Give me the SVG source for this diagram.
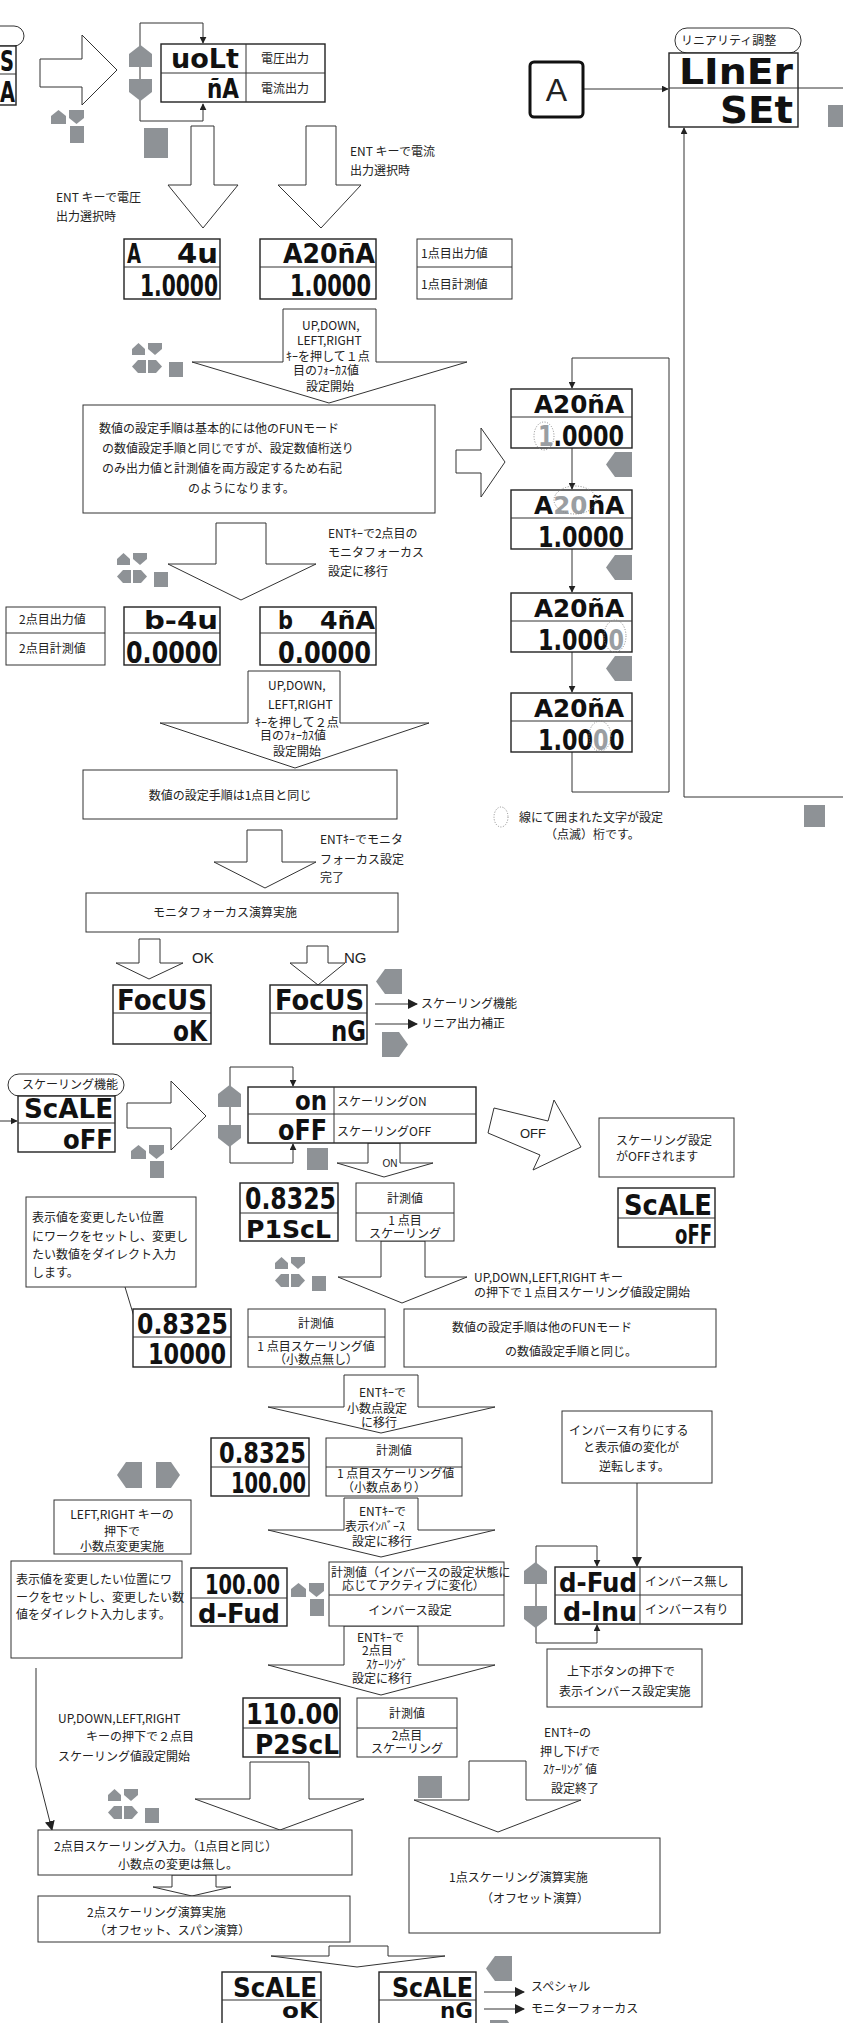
<svg xmlns="http://www.w3.org/2000/svg" width="843" height="2023" viewBox="0 0 843 2023">
<defs>
<style>
.ln{fill:none;stroke:#333;stroke-width:1}
.bx{fill:#fff;stroke:#333;stroke-width:1}
.dp{fill:#fff;stroke:#222;stroke-width:1.4}
.ha{fill:#fff;stroke:#333;stroke-width:1}
.g{fill:#8e9296}
.t{font-family:"Noto Sans CJK JP","Noto Sans",sans-serif;font-size:12px;fill:#222}
.lcd{font-family:"DejaVu Sans Condensed","DejaVu Sans",sans-serif;font-weight:bold;fill:#111}
.lgr{fill:#9a9ea2}
.dot{fill:none;stroke:#888;stroke-width:1;stroke-dasharray:1 1.6}
.m{text-anchor:middle}
.e{text-anchor:end}
.lat{font-family:"Liberation Sans",Arial,sans-serif;fill:#222}
</style>
<marker id="ah" viewBox="0 0 10 10" refX="9" refY="5" markerWidth="7" markerHeight="7" orient="auto" markerUnits="userSpaceOnUse"><path d="M0,0 L10,5 L0,10 Z" fill="#222"/></marker>
<marker id="ahL" viewBox="0 0 10 10" refX="9" refY="5" markerWidth="10" markerHeight="10" orient="auto" markerUnits="userSpaceOnUse"><path d="M0,0 L10,5 L0,10 Z" fill="#222"/></marker>
<g id="keys" class="g">
<path d="M6.5,0 L13,6 L13,12 L0,12 L0,6 Z"/>
<path d="M16,0 L30,0 L30,6 L23,12 L16,6 Z"/>
<path d="M0,23.5 L6,17 L14,17 L14,30 L6,30 Z"/>
<path d="M16,17 L24,17 L30,23.5 L24,30 L16,30 Z"/>
<rect x="37" y="19" width="14" height="15"/>
</g>
<g id="ud" class="g">
<path d="M7.5,0 L15,6 L15,14 L0,14 L0,6 Z"/>
<path d="M18,0 L33,0 L33,8 L25.5,14 L18,8 Z"/>
<rect x="19" y="16" width="14" height="17"/>
</g>
<path id="pl" class="g" d="M0,12.5 L9,0 L26,0 L26,25 L9,25 Z"/>
<path id="pr" class="g" d="M0,0 L17,0 L26,12.5 L17,25 L0,25 Z"/>
<path id="su" class="g" d="M11.5,0 L23,9 L23,22 L0,22 L0,9 Z"/>
<path id="sd" class="g" d="M0,0 L23,0 L23,13 L11.5,22 L0,13 Z"/>
</defs>
<rect width="843" height="2023" fill="#fff"/>

<g id="block-arrows">
<polygon class="ha" points="40,59 82,59 82,35 117,70 82,105 82,87 40,87"/>
<polygon class="ha" points="191,126 214,126 214,185 238,185 203,228 168,185 191,185"/>
<polygon class="ha" points="306,126 336,126 336,185 361,185 321,228 278,185 306,185"/>
<polygon class="ha" points="283,309 376,309 376,362 467,362 329,403 192,362 283,362"/>
<polygon class="ha" points="456,450 481,450 481,428 505,462 481,497 481,473 456,473"/>
<polygon class="ha" points="216,523 266,523 266,564 316,564 241,600 168,564 216,564"/>
<polygon class="ha" points="248,671 340,671 340,723 429,723 295,768 160,723 248,723"/>
<polygon class="ha" points="247,830 282,830 282,862 316,862 265,888 214,862 247,862"/>
<polygon class="ha" points="139,939 160,939 160,963 183,963 149,979 116,963 139,963"/>
<polygon class="ha" points="307,946 328,946 328,963 345,963 318,985 290,963 307,963"/>
<polygon class="ha" points="127,1103 171,1103 171,1081 206,1116 171,1150 171,1128 127,1128"/>
<polygon class="ha" points="368,1143 400,1143 400,1163 433,1163 384,1177 337,1163 368,1163"/>
<polygon class="ha" points="494,1108 548,1121 554,1100 581,1147 533,1170 540,1155 488,1133"/>
<polygon class="ha" points="381,1241 425,1241 425,1277 467,1277 402,1303 338,1277 381,1277"/>
<polygon class="ha" points="344,1375 418,1375 418,1407 495,1407 381,1433 268,1407 344,1407"/>
<polygon class="ha" points="344,1498 418,1498 418,1530 495,1530 381,1557 268,1530 344,1530"/>
<polygon class="ha" points="344,1626 418,1626 418,1665 495,1665 381,1695 268,1665 344,1665"/>
<polygon class="ha" points="250,1762 309,1762 309,1799 364,1799 280,1830 195,1799 250,1799"/>
<polygon class="ha" points="469,1761 526,1761 526,1800 581,1800 498,1832 414,1800 469,1800"/>
<polygon class="ha" points="172,1875 216,1875 216,1887 231,1887 192,1896 153,1887 172,1887"/>
<polygon class="ha" points="329,1946 388,1946 388,1956 445,1956 357,1967 271,1956 329,1956"/>
</g>

<g id="connectors" class="ln">
<path d="M583,89 H668" marker-end="url(#ah)"/>
<path d="M798,88 H843"/>
<path d="M684,797 H843"/>
<path d="M684,797 V128" marker-end="url(#ah)"/>
<path d="M140,70 V23 H203 V43" marker-end="url(#ah)"/>
<path d="M140,70 V121 H203 V104" marker-end="url(#ah)"/>
<path d="M572,752 V792 H669 V358 H572 V388" marker-end="url(#ah)"/>
<path d="M572,448 V489" marker-end="url(#ah)"/>
<path d="M572,549 V592" marker-end="url(#ah)"/>
<path d="M572,652 V692" marker-end="url(#ah)"/>
<path d="M375,1004 H417" marker-end="url(#ahL)"/>
<path d="M375,1024 H417" marker-end="url(#ahL)"/>
<path d="M0,1121 H17" marker-end="url(#ah)"/>
<path d="M230,1100 V1067 H293 V1086" marker-end="url(#ah)"/>
<path d="M230,1100 V1163 H293 V1144" marker-end="url(#ah)"/>
<path d="M125,1287 L142,1343" marker-end="url(#ah)"/>
<path d="M637,1483 V1566" marker-end="url(#ahL)"/>
<path d="M536,1590 V1546 H597 V1566" marker-end="url(#ah)"/>
<path d="M536,1590 V1643 H597 V1625" marker-end="url(#ah)"/>
<path d="M36,1668 V1767 L52,1830" marker-end="url(#ahL)"/>
<path d="M484,1992 H524" marker-end="url(#ahL)"/>
<path d="M484,2009 H524" marker-end="url(#ahL)"/>
</g>

<g id="icons">
<use href="#su" x="129" y="45"/><use href="#sd" x="129" y="79"/>
<use href="#ud" x="51" y="110"/>
<rect class="g" x="144" y="128" width="24" height="30"/>
<rect class="g" x="828" y="105" width="15" height="22"/>
<use href="#keys" x="132" y="343"/>
<use href="#pl" x="606" y="452"/>
<use href="#pl" x="606" y="555"/>
<use href="#pl" x="606" y="656"/>
<use href="#keys" x="117" y="553"/>
<rect class="g" x="804" y="805" width="21" height="22"/>
<use href="#pl" x="376" y="969"/>
<use href="#pr" x="382" y="1032"/>
<use href="#ud" x="131" y="1145"/>
<use href="#su" x="218" y="1085"/><use href="#sd" x="218" y="1125"/>
<rect class="g" x="307" y="1148" width="21" height="22"/>
<use href="#keys" x="275" y="1257"/>
<path class="g" d="M117,1475 L126,1462 L142,1462 L142,1488 L126,1488 Z"/>
<path class="g" d="M156,1462 L171,1462 L180,1475 L171,1488 L156,1488 Z"/>
<use href="#ud" x="291" y="1583"/>
<use href="#su" x="524" y="1562"/><use href="#sd" x="524" y="1606"/>
<use href="#keys" x="108" y="1789"/>
<rect class="g" x="418" y="1776" width="24" height="22"/>
<use href="#pl" x="486" y="1956"/>
<use href="#pr" x="490" y="2020"/>
</g>

<g id="n-prev">
<rect class="bx" x="-80" y="26" width="104" height="20" rx="10"/>
<rect class="dp" x="-80" y="46" width="96" height="59"/>
<line class="ln" x1="-80" y1="74" x2="16" y2="74"/>
<text class="lcd" x="0" y="71" font-size="29" textLength="14" lengthAdjust="spacingAndGlyphs">S</text>
<text class="lcd" x="0" y="102" font-size="29" textLength="15" lengthAdjust="spacingAndGlyphs">A</text>
</g>

<g id="n-output-sel">
<rect class="dp" x="161" y="44" width="164" height="58" stroke-width="1.1"/>
<line class="ln" x1="161" y1="73" x2="325" y2="73"/>
<line class="ln" x1="246" y1="44" x2="246" y2="102"/>
<text class="lcd" x="171" y="68" font-size="26" textLength="68" lengthAdjust="spacingAndGlyphs">uoLt</text>
<text class="lcd" x="207" y="98" font-size="26" textLength="32" lengthAdjust="spacingAndGlyphs">ñA</text>
<text class="t" x="261" y="63">電圧出力</text>
<text class="t" x="261" y="93">電流出力</text>
</g>

<g id="n-A">
<rect x="530" y="62" width="53" height="55" rx="4" fill="#fff" stroke="#111" stroke-width="3"/>
<text class="lat m" x="556.5" y="101" font-size="32">A</text>
</g>

<g id="n-liner">
<rect class="bx" x="675" y="28" width="126" height="25" rx="12"/>
<text class="t" x="681" y="45" font-size="11.5">リニアリティ調整</text>
<rect class="dp" x="669" y="53" width="129" height="74"/>
<line class="ln" x1="669" y1="88" x2="798" y2="88"/>
<text class="lcd" x="679" y="84" font-size="36" textLength="114" lengthAdjust="spacingAndGlyphs">LInEr</text>
<text class="lcd" x="720" y="123" font-size="38" textLength="73" lengthAdjust="spacingAndGlyphs">SEt</text>
</g>

<g id="n-notes-top">
<text class="t" x="350" y="156">ENT キーで電流</text>
<text class="t" x="350" y="175">出力選択時</text>
<text class="t" x="56" y="202">ENT キーで電圧</text>
<text class="t" x="56" y="221">出力選択時</text>
</g>

<g id="n-disp-a4u">
<rect class="dp" x="124" y="239" width="96" height="60"/>
<line class="ln" x1="124" y1="267" x2="220" y2="267"/>
<text class="lcd" x="127" y="263" font-size="26" textLength="14" lengthAdjust="spacingAndGlyphs">A</text>
<text class="lcd" x="177" y="263" font-size="26" textLength="41" lengthAdjust="spacingAndGlyphs">4u</text>
<text class="lcd" x="140" y="296" font-size="31" textLength="78" lengthAdjust="spacingAndGlyphs">1.0000</text>
</g>

<g id="n-disp-a20ma">
<rect class="dp" x="260" y="239" width="116" height="60"/>
<line class="ln" x1="260" y1="267" x2="376" y2="267"/>
<text class="lcd" x="283" y="263" font-size="26" textLength="92" lengthAdjust="spacingAndGlyphs">A20ñA</text>
<text class="lcd" x="290" y="296" font-size="31" textLength="81" lengthAdjust="spacingAndGlyphs">1.0000</text>
</g>

<g id="n-label-1pt">
<rect class="bx" x="417" y="239" width="95" height="60"/>
<line class="ln" x1="417" y1="267" x2="512" y2="267"/>
<text class="t" x="421" y="258">1点目出力値</text>
<text class="t" x="421" y="289">1点目計測値</text>
</g>

<g id="n-arrowtext-1">
<text class="t" x="302" y="330" font-size="11.5">UP,DOWN,</text>
<text class="t" x="297" y="345" font-size="11.5">LEFT,RIGHT</text>
<text class="t" x="286" y="361" font-size="11.5">ｷｰを押して１点</text>
<text class="t" x="293" y="375" font-size="11.5">目のﾌｫｰｶｽ値</text>
<text class="t" x="306" y="391" font-size="11.5">設定開始</text>
</g>

<g id="n-note-1">
<rect class="bx" x="83" y="405" width="352" height="108"/>
<text class="t" x="99" y="433" font-size="13.5">数値の設定手順は基本的には他のFUNモード</text>
<text class="t" x="102" y="453" font-size="13.5">の数値設定手順と同じですが、設定数値桁送り</text>
<text class="t" x="102" y="473" font-size="13.5">のみ出力値と計測値を両方設定するため右記</text>
<text class="t" x="188" y="493" font-size="13.5">のようになります。</text>
</g>

<g id="n-stack-1">
<rect class="dp" x="511" y="389" width="121" height="59"/>
<line class="ln" x1="511" y1="417" x2="632" y2="417"/>
<text class="lcd" x="534" y="413" font-size="24" textLength="90" lengthAdjust="spacingAndGlyphs">A20ñA</text>
<g transform="translate(538,446) scale(0.885,1)">
<text class="lcd lgr e" x="17.5" y="0" font-size="28">1</text>
<text class="lcd" x="17.5" y="0" font-size="28">.0000</text>
</g>
<ellipse class="dot" cx="544" cy="436" rx="10" ry="14"/>
</g>
<g id="n-stack-2">
<rect class="dp" x="511" y="490" width="121" height="59"/>
<line class="ln" x1="511" y1="518" x2="632" y2="518"/>
<g transform="translate(534,514) scale(1.14,1)">
<text class="lcd e" x="16.8" y="0" font-size="24">A</text>
<text class="lcd lgr" x="16.8" y="0" font-size="24">20</text>
<text class="lcd" x="47.2" y="0" font-size="24">ñA</text>
</g>
<text class="lcd" x="538" y="547" font-size="28" textLength="86" lengthAdjust="spacingAndGlyphs">1.0000</text>
<ellipse class="dot" cx="575" cy="500" rx="21" ry="14"/>
</g>
<g id="n-stack-3">
<rect class="dp" x="511" y="593" width="121" height="59"/>
<line class="ln" x1="511" y1="621" x2="632" y2="621"/>
<text class="lcd" x="534" y="617" font-size="24" textLength="90" lengthAdjust="spacingAndGlyphs">A20ñA</text>
<g transform="translate(538,650) scale(0.885,1)">
<text class="lcd e" x="79.7" y="0" font-size="28">1.000</text>
<text class="lcd lgr" x="79.7" y="0" font-size="28">0</text>
</g>
<ellipse class="dot" cx="615" cy="636" rx="11" ry="16"/>
</g>
<g id="n-stack-4">
<rect class="dp" x="511" y="693" width="121" height="59"/>
<line class="ln" x1="511" y1="721" x2="632" y2="721"/>
<text class="lcd" x="534" y="717" font-size="24" textLength="90" lengthAdjust="spacingAndGlyphs">A20ñA</text>
<g transform="translate(538,750) scale(0.885,1)">
<text class="lcd e" x="62.2" y="0" font-size="28">1.00</text>
<text class="lcd lgr" x="62.2" y="0" font-size="28">0</text>
<text class="lcd" x="80.3" y="0" font-size="28">0</text>
</g>
<ellipse class="dot" cx="600" cy="736" rx="11" ry="15"/>
</g>
<g id="n-legend">
<ellipse class="dot" cx="501" cy="817" rx="7" ry="10"/>
<text class="t" x="519" y="822" font-size="11.5">線にて囲まれた文字が設定</text>
<text class="t" x="545" y="839" font-size="11.5">（点滅）桁です。</text>
</g>

<g id="n-note-2pt">
<text class="t" x="328" y="538">ENTｷｰで2点目の</text>
<text class="t" x="328" y="557">モニタフォーカス</text>
<text class="t" x="328" y="576">設定に移行</text>
</g>

<g id="n-label-2pt">
<rect class="bx" x="6" y="607" width="99" height="58"/>
<line class="ln" x1="6" y1="633" x2="105" y2="633"/>
<text class="t" x="19" y="624">2点目出力値</text>
<text class="t" x="19" y="653">2点目計測値</text>
</g>
<g id="n-disp-b4u">
<rect class="dp" x="124" y="607" width="96" height="58"/>
<line class="ln" x1="124" y1="633" x2="220" y2="633"/>
<text class="lcd" x="144" y="629" font-size="25" textLength="74" lengthAdjust="spacingAndGlyphs">b-4u</text>
<text class="lcd" x="126" y="663" font-size="31" textLength="92" lengthAdjust="spacingAndGlyphs">0.0000</text>
</g>
<g id="n-disp-b4ma">
<rect class="dp" x="260" y="607" width="116" height="58"/>
<line class="ln" x1="260" y1="633" x2="376" y2="633"/>
<text class="lcd" x="278" y="629" font-size="25" textLength="15" lengthAdjust="spacingAndGlyphs">b</text>
<text class="lcd" x="320" y="629" font-size="25" textLength="55" lengthAdjust="spacingAndGlyphs">4ñA</text>
<text class="lcd" x="278" y="663" font-size="31" textLength="93" lengthAdjust="spacingAndGlyphs">0.0000</text>
</g>

<g id="n-arrowtext-2">
<text class="t" x="268" y="690" font-size="11.5">UP,DOWN,</text>
<text class="t" x="268" y="709" font-size="11.5">LEFT,RIGHT</text>
<text class="t" x="255" y="727" font-size="11.5">ｷｰを押して２点</text>
<text class="t" x="260" y="740" font-size="11.5">目のﾌｫｰｶｽ値</text>
<text class="t" x="273" y="756" font-size="11.5">設定開始</text>
</g>

<g id="n-note-same">
<rect class="bx" x="83" y="770" width="314" height="49"/>
<text class="t m" x="230" y="800" font-size="15">数値の設定手順は1点目と同じ</text>
</g>
<g id="n-note-focus-done">
<text class="t" x="320" y="844">ENTｷｰでモニタ</text>
<text class="t" x="320" y="864">フォーカス設定</text>
<text class="t" x="320" y="882">完了</text>
</g>
<g id="n-focus-calc">
<rect class="bx" x="86" y="893" width="312" height="39"/>
<text class="t m" x="225" y="917" font-size="14.5">モニタフォーカス演算実施</text>
</g>
<text class="lat" x="192" y="963" font-size="15">OK</text>
<text class="lat" x="344" y="963" font-size="15">NG</text>

<g id="n-focus-ok">
<rect class="dp" x="113" y="985" width="98" height="59"/>
<line class="ln" x1="113" y1="1013" x2="211" y2="1013"/>
<text class="lcd" x="117" y="1010" font-size="29" textLength="90" lengthAdjust="spacingAndGlyphs">FocUS</text>
<text class="lcd" x="173" y="1041" font-size="28" textLength="34" lengthAdjust="spacingAndGlyphs">oK</text>
</g>
<g id="n-focus-ng">
<rect class="dp" x="270" y="985" width="97" height="59"/>
<line class="ln" x1="270" y1="1013" x2="367" y2="1013"/>
<text class="lcd" x="275" y="1010" font-size="29" textLength="89" lengthAdjust="spacingAndGlyphs">FocUS</text>
<text class="lcd" x="331" y="1041" font-size="28" textLength="35" lengthAdjust="spacingAndGlyphs">nG</text>
<text class="t" x="421" y="1008" font-size="11.5">スケーリング機能</text>
<text class="t" x="421" y="1028" font-size="11.5">リニア出力補正</text>
</g>

<g id="n-scale">
<rect class="bx" x="8" y="1074" width="116" height="22" rx="11"/>
<text class="t" x="22" y="1089" font-size="11">スケーリング機能</text>
<rect class="dp" x="18" y="1096" width="97" height="56"/>
<line class="ln" x1="18" y1="1123" x2="115" y2="1123"/>
<text class="lcd" x="24" y="1118" font-size="27" textLength="89" lengthAdjust="spacingAndGlyphs">ScALE</text>
<text class="lcd" x="63" y="1149" font-size="26" textLength="50" lengthAdjust="spacingAndGlyphs">oFF</text>
</g>

<g id="n-scale-sel">
<rect class="dp" x="248" y="1087" width="228" height="56" stroke-width="1.1"/>
<line class="ln" x1="248" y1="1114" x2="476" y2="1114"/>
<line class="ln" x1="334" y1="1087" x2="334" y2="1143"/>
<text class="lcd" x="295" y="1110" font-size="26" textLength="32" lengthAdjust="spacingAndGlyphs">on</text>
<text class="lcd" x="278" y="1140" font-size="28" textLength="49" lengthAdjust="spacingAndGlyphs">oFF</text>
<text class="t" x="337" y="1106">スケーリングON</text>
<text class="t" x="337" y="1136">スケーリングOFF</text>
</g>
<text class="lat m" x="390" y="1167" font-size="10">ON</text>
<text class="lat" x="520" y="1138" font-size="13">OFF</text>

<g id="n-scale-off-note">
<rect class="bx" x="599" y="1118" width="135" height="59"/>
<text class="t" x="616" y="1145" font-size="11.5">スケーリング設定</text>
<text class="t" x="616" y="1161" font-size="11.5">がOFFされます</text>
</g>

<g id="n-disp-p1scl">
<rect class="dp" x="240" y="1183" width="98" height="58"/>
<line class="ln" x1="240" y1="1213" x2="338" y2="1213"/>
<text class="lcd" x="245" y="1209" font-size="30" textLength="91" lengthAdjust="spacingAndGlyphs">0.8325</text>
<text class="lcd" x="246" y="1238" font-size="25" textLength="85" lengthAdjust="spacingAndGlyphs">P1ScL</text>
</g>
<g id="n-label-p1">
<rect class="bx" x="356" y="1183" width="98" height="58"/>
<line class="ln" x1="356" y1="1213" x2="454" y2="1213"/>
<text class="t m" x="405" y="1203">計測値</text>
<text class="t m" x="405" y="1225">1 点目</text>
<text class="t m" x="405" y="1238">スケーリング</text>
</g>
<g id="n-scale-off-disp">
<rect class="dp" x="618" y="1188" width="97" height="59"/>
<line class="ln" x1="618" y1="1218" x2="715" y2="1218"/>
<text class="lcd" x="624" y="1215" font-size="29" textLength="88" lengthAdjust="spacingAndGlyphs">ScALE</text>
<text class="lcd" x="675" y="1244" font-size="27" textLength="37" lengthAdjust="spacingAndGlyphs">oFF</text>
</g>

<g id="n-direct-note-1">
<rect class="bx" x="26" y="1197" width="170" height="90"/>
<text class="t" x="32" y="1222" font-size="11.5">表示値を変更したい位置</text>
<text class="t" x="32" y="1241" font-size="11.5">にワークをセットし、変更し</text>
<text class="t" x="32" y="1259" font-size="11.5">たい数値をダイレクト入力</text>
<text class="t" x="32" y="1277" font-size="11.5">します。</text>
</g>
<text class="t" x="474" y="1282">UP,DOWN,LEFT,RIGHT キー</text>
<text class="t" x="474" y="1297">の押下で１点目スケーリング値設定開始</text>

<g id="n-disp-10000">
<rect class="dp" x="133" y="1309" width="98" height="58"/>
<line class="ln" x1="133" y1="1337" x2="231" y2="1337"/>
<text class="lcd" x="137" y="1334" font-size="29" textLength="91" lengthAdjust="spacingAndGlyphs">0.8325</text>
<text class="lcd" x="148" y="1364" font-size="29" textLength="78" lengthAdjust="spacingAndGlyphs">10000</text>
</g>
<g id="n-label-p1v">
<rect class="bx" x="248" y="1309" width="137" height="58"/>
<line class="ln" x1="248" y1="1337" x2="385" y2="1337"/>
<text class="t m" x="316" y="1328">計測値</text>
<text class="t m" x="316" y="1351">1 点目スケーリング値</text>
<text class="t m" x="316" y="1364" font-size="11">（小数点無し）</text>
</g>
<g id="n-note-fun">
<rect class="bx" x="404" y="1309" width="312" height="58"/>
<text class="t" x="452" y="1332" font-size="13">数値の設定手順は他のFUNモード</text>
<text class="t" x="505" y="1356" font-size="13">の数値設定手順と同じ。</text>
</g>

<g id="n-arrowtext-3">
<text class="t" x="359" y="1397" font-size="11.5">ENTｷｰで</text>
<text class="t" x="347" y="1413" font-size="11.5">小数点設定</text>
<text class="t" x="361" y="1427" font-size="11.5">に移行</text>
</g>

<g id="n-disp-10000dp">
<rect class="dp" x="211" y="1438" width="98" height="58"/>
<line class="ln" x1="211" y1="1467" x2="309" y2="1467"/>
<text class="lcd" x="219" y="1463" font-size="29" textLength="87" lengthAdjust="spacingAndGlyphs">0.8325</text>
<text class="lcd" x="231" y="1493" font-size="29" textLength="75" lengthAdjust="spacingAndGlyphs">100.00</text>
</g>
<g id="n-label-p1dp">
<rect class="bx" x="326" y="1438" width="136" height="58"/>
<line class="ln" x1="326" y1="1467" x2="462" y2="1467"/>
<text class="t m" x="394" y="1455">計測値</text>
<text class="t" x="337" y="1478">1 点目スケーリング値</text>
<text class="t" x="342" y="1492" font-size="11">（小数点あり）</text>
</g>

<g id="n-inverse-note">
<rect class="bx" x="562" y="1411" width="150" height="72"/>
<text class="t" x="569" y="1435" font-size="11.5">インバース有りにする</text>
<text class="t" x="583" y="1452" font-size="11.5">と表示値の変化が</text>
<text class="t" x="599" y="1471" font-size="11.5">逆転します。</text>
</g>

<g id="n-lr-note">
<rect class="bx" x="54" y="1500" width="137" height="54"/>
<text class="t m" x="122" y="1519" font-size="11.5">LEFT,RIGHT キーの</text>
<text class="t m" x="122" y="1536" font-size="11.5">押下で</text>
<text class="t m" x="122" y="1551" font-size="11.5">小数点変更実施</text>
</g>

<g id="n-arrowtext-4">
<text class="t" x="359" y="1516" font-size="11.5">ENTｷｰで</text>
<text class="t" x="345" y="1531" font-size="11.5">表示ｲﾝﾊﾞｰｽ</text>
<text class="t" x="352" y="1546" font-size="11.5">設定に移行</text>
</g>

<g id="n-direct-note-2">
<rect class="bx" x="11" y="1561" width="171" height="97"/>
<text class="t" x="16" y="1584" font-size="12">表示値を変更したい位置にワ</text>
<text class="t" x="16" y="1602" font-size="12">ークをセットし、変更したい数</text>
<text class="t" x="16" y="1619" font-size="12">値をダイレクト入力します。</text>
</g>

<g id="n-disp-dfwd">
<rect class="dp" x="191" y="1568" width="96" height="58"/>
<line class="ln" x1="191" y1="1598" x2="287" y2="1598"/>
<text class="lcd" x="205" y="1594" font-size="27" textLength="75" lengthAdjust="spacingAndGlyphs">100.00</text>
<text class="lcd" x="198" y="1623" font-size="27" textLength="82" lengthAdjust="spacingAndGlyphs">d-Fud</text>
</g>
<g id="n-label-inv">
<rect class="bx" x="329" y="1562" width="175" height="64"/>
<line class="ln" x1="329" y1="1595" x2="504" y2="1595"/>
<text class="t" x="331" y="1577" font-size="11">計測値（インバースの設定状態に</text>
<text class="t" x="342" y="1590" font-size="11">応じてアクティブに変化）</text>
<text class="t m" x="410" y="1615">インバース設定</text>
</g>

<g id="n-inv-sel">
<rect class="dp" x="555" y="1567" width="187" height="57" stroke-width="1.1"/>
<line class="ln" x1="555" y1="1595" x2="742" y2="1595"/>
<line class="ln" x1="640" y1="1567" x2="640" y2="1624"/>
<text class="lcd" x="559" y="1592" font-size="26" textLength="78" lengthAdjust="spacingAndGlyphs">d-Fud</text>
<text class="lcd" x="563" y="1621" font-size="26" textLength="74" lengthAdjust="spacingAndGlyphs">d-Inu</text>
<text class="t" x="645" y="1586" font-size="11.5">インバース無し</text>
<text class="t" x="645" y="1614" font-size="11.5">インバース有り</text>
</g>

<g id="n-arrowtext-5">
<text class="t" x="357" y="1642" font-size="11.5">ENTｷｰで</text>
<text class="t" x="362" y="1655" font-size="11.5">2点目</text>
<text class="t" x="366" y="1669" font-size="10.5">ｽｹｰﾘﾝｸﾞ</text>
<text class="t" x="352" y="1683" font-size="11.5">設定に移行</text>
</g>

<g id="n-updown-note">
<rect class="bx" x="547" y="1649" width="155" height="58"/>
<text class="t" x="567" y="1676" font-size="11.5">上下ボタンの押下で</text>
<text class="t" x="559" y="1696" font-size="11.5">表示インバース設定実施</text>
</g>

<g id="n-disp-p2scl">
<rect class="dp" x="243" y="1698" width="97" height="59"/>
<line class="ln" x1="243" y1="1728" x2="340" y2="1728"/>
<text class="lcd" x="246" y="1724" font-size="29" textLength="93" lengthAdjust="spacingAndGlyphs">110.00</text>
<text class="lcd" x="255" y="1754" font-size="27" textLength="84" lengthAdjust="spacingAndGlyphs">P2ScL</text>
</g>
<g id="n-label-p2">
<rect class="bx" x="357" y="1698" width="100" height="59"/>
<line class="ln" x1="357" y1="1728" x2="457" y2="1728"/>
<text class="t m" x="407" y="1718">計測値</text>
<text class="t m" x="407" y="1740">2点目</text>
<text class="t m" x="407" y="1753">スケーリング</text>
</g>

<g id="n-note-2pt-start">
<text class="t" x="58" y="1723" font-size="11.5">UP,DOWN,LEFT,RIGHT</text>
<text class="t" x="86" y="1741" font-size="11.5">キーの押下で２点目</text>
<text class="t" x="58" y="1761" font-size="11.5">スケーリング値設定開始</text>
</g>
<g id="n-note-end">
<text class="t" x="544" y="1737" font-size="11.5">ENTｷｰの</text>
<text class="t" x="540" y="1756" font-size="11.5">押し下げで</text>
<text class="t" x="543" y="1774" font-size="11">ｽｹｰﾘﾝｸﾞ値</text>
<text class="t" x="551" y="1793" font-size="11.5">設定終了</text>
</g>

<g id="n-2pt-input">
<rect class="bx" x="38" y="1830" width="314" height="45"/>
<text class="t" x="54" y="1851" font-size="11.5">2点目スケーリング入力。（1点目と同じ）</text>
<text class="t" x="118" y="1869" font-size="11.5">小数点の変更は無し。</text>
</g>
<g id="n-1pt-calc">
<rect class="bx" x="409" y="1838" width="251" height="95"/>
<text class="t" x="449" y="1882" font-size="11.5">1点スケーリング演算実施</text>
<text class="t" x="481" y="1903" font-size="11.5">（オフセット演算）</text>
</g>
<g id="n-2pt-calc">
<rect class="bx" x="38" y="1896" width="312" height="46"/>
<text class="t" x="87" y="1917" font-size="11.5">2点スケーリング演算実施</text>
<text class="t" x="94" y="1935" font-size="11.5">（オフセット、スパン演算）</text>
</g>

<g id="n-scale-ok">
<rect class="dp" x="222" y="1972" width="99" height="60"/>
<line class="ln" x1="222" y1="2000" x2="321" y2="2000"/>
<text class="lcd" x="233" y="1997" font-size="27" textLength="84" lengthAdjust="spacingAndGlyphs">ScALE</text>
<text class="lcd" x="282" y="2018" font-size="21" textLength="36" lengthAdjust="spacingAndGlyphs">oK</text>
</g>
<g id="n-scale-ng">
<rect class="dp" x="379" y="1972" width="97" height="60"/>
<line class="ln" x1="379" y1="2000" x2="476" y2="2000"/>
<text class="lcd" x="392" y="1997" font-size="27" textLength="81" lengthAdjust="spacingAndGlyphs">ScALE</text>
<text class="lcd" x="440" y="2018" font-size="21" textLength="33" lengthAdjust="spacingAndGlyphs">nG</text>
<text class="t" x="531" y="1991" font-size="11.5">スペシャル</text>
<text class="t" x="531" y="2013" font-size="11.5">モニターフォーカス</text>
</g>
</svg>
